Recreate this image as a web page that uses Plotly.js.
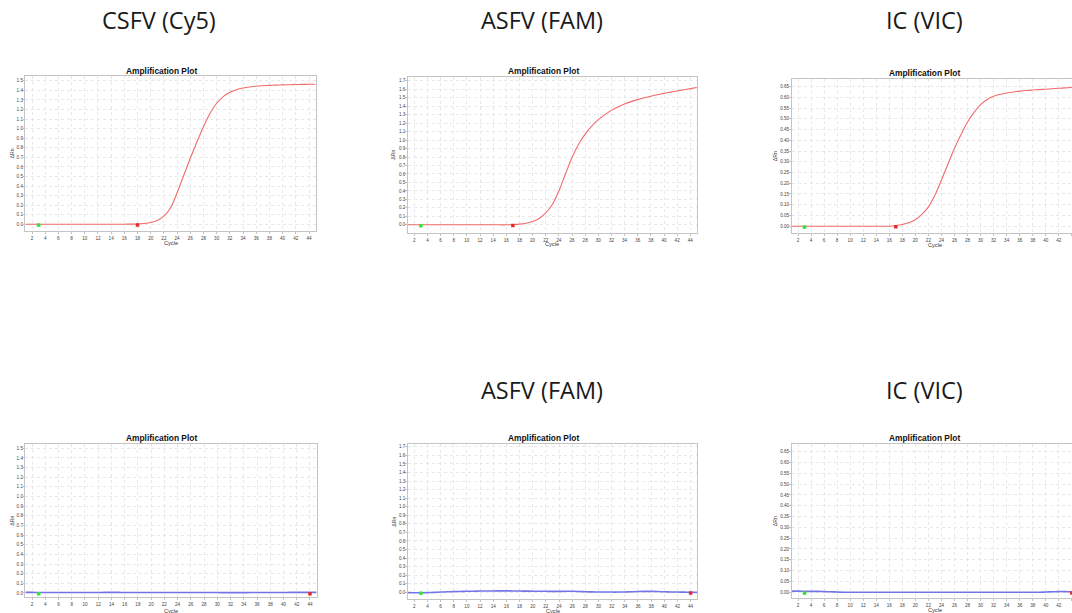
<!DOCTYPE html>
<html>
<head>
<meta charset="utf-8">
<script src="https://cdn.plot.ly/plotly-3.0.1.min.js"></script>
<style>html,body{margin:0;padding:0;background:#fff;}#chart{width:1072px;height:613px;}</style>
</head>
<body>
<div id="chart"></div>
<script>
// ---------- DATA ----------
const cycles = [1,2,3,4,5,6,7,8,9,10,11,12,13,14,15,16,17,18,19,20,21,22,23,24,25,26,27,28,29,30,31,32,33,34,35,36,37,38,39,40,41,42,43,44,45];

const csfvTop = [0.000,0.000,0.000,0.000,0.000,0.000,0.000,0.000,0.000,0.000,0.000,0.000,0.000,0.000,0.001,0.001,0.002,0.003,0.008,0.018,0.040,0.085,0.170,0.330,0.510,0.690,0.860,1.020,1.160,1.265,1.335,1.380,1.407,1.424,1.435,1.443,1.448,1.452,1.455,1.457,1.459,1.461,1.462,1.463,1.464];
const asfvTop = [0.000,0.000,0.000,0.000,0.000,0.000,0.000,0.000,0.000,0.000,0.000,0.000,0.000,0.000,0.000,0.000,0.003,0.008,0.018,0.040,0.075,0.140,0.240,0.400,0.600,0.795,0.950,1.070,1.165,1.240,1.300,1.350,1.390,1.425,1.453,1.477,1.498,1.517,1.534,1.550,1.565,1.579,1.593,1.606,1.620];
const icTop = [0.000,0.000,0.000,0.000,0.000,0.000,0.000,0.000,0.000,0.000,0.000,0.000,0.000,0.000,0.000,0.000,0.003,0.008,0.016,0.030,0.055,0.090,0.145,0.215,0.290,0.363,0.427,0.485,0.530,0.566,0.590,0.605,0.614,0.620,0.625,0.629,0.632,0.634,0.636,0.638,0.640,0.642,0.644,0.646,0.647];

const csfvBottom = [0.006,0.006,0.005,0.005,0.005,0.004,0.004,0.004,0.004,0.005,0.005,0.005,0.006,0.006,0.006,0.005,0.005,0.005,0.004,0.004,0.004,0.004,0.005,0.005,0.005,0.005,0.004,0.004,0.004,0.004,0.003,0.003,0.003,0.003,0.004,0.004,0.004,0.005,0.005,0.005,0.006,0.006,0.006,0.006,0.006];
const asfvBottom = [-0.004,-0.005,-0.005,-0.003,0.000,0.003,0.006,0.008,0.010,0.012,0.013,0.015,0.016,0.016,0.017,0.017,0.016,0.015,0.014,0.013,0.012,0.012,0.011,0.011,0.012,0.012,0.010,0.007,0.005,0.004,0.004,0.003,0.003,0.004,0.006,0.009,0.011,0.011,0.009,0.006,0.004,0.003,0.002,0.001,0.000];
const icBottom = [0.005,0.005,0.004,0.004,0.004,0.003,0.002,0.001,0.000,0.000,0.000,0.000,0.000,0.000,0.000,0.000,0.000,0.000,0.000,0.000,0.000,0.000,0.000,0.000,0.000,0.000,0.000,0.000,0.000,0.000,0.000,0.000,0.000,0.000,0.000,0.000,0.000,0.000,0.000,0.001,0.002,0.003,0.003,0.002,0.001];

// baseline start / end markers (cycle, ΔRn)
const baseStartCycle = [3,3,3,3,3,3];
const baseStartValue = [-0.008,-0.010,-0.004,-0.008,-0.010,-0.004];
const baseEndCycle = [18,17,17,44,44,44];
const baseEndValue = [-0.006,-0.008,-0.002,-0.008,-0.008,-0.004];

const groupTitles = ["CSFV (Cy5)","ASFV (FAM)","IC (VIC)","","ASFV (FAM)","IC (VIC)"];
const plotTitle = "Amplification Plot";
const xAxisTitle = "Cycle";
const yAxisTitle = "ΔRn";
const xTickVals = [2,4,6,8,10,12,14,16,18,20,22,24,26,28,30,32,34,36,38,40,42,44];

// ---------- LAYOUT ----------
const W = 1072, H = 613;
const fx = v => v / W;
const fy = v => 1 - v / H;

const RED = '#f26a6a', BLUE = '#7474e8';
const panels = [
  {s: csfvTop,    c: RED,  x0: 25.4,  x1: 315.6, y0: 76,    y1: 231,   xr: [1, 45],    yr: [-0.07, 1.55],  dt: 0.1,  fmt: '.1f', top: 71,    cyc: 242.7, cx: 170.5, gy: 20,  gx: 159, yl: 12,  tx: 161},
  {s: asfvTop,    c: RED,  x0: 407.7, x1: 696.9, y0: 77.3,  y1: 233.3, xr: [1, 45],    yr: [-0.10, 1.74],  dt: 0.1,  fmt: '.1f', top: 71,    cyc: 244,   cx: 552.3, gy: 20,  gx: 542, yl: 393.5, tx: 543},
  {s: icTop,      c: RED,  x0: 791.5, x1: 1072,  y0: 79.3,  y1: 233.3, xr: [1, 44.02], yr: [-0.033, 0.684], dt: 0.05, fmt: '.2f', top: 73,    cyc: 245,   cx: 935,   gy: 20,  gx: 924, yl: 775, tx: 924.5},
  {s: csfvBottom, c: BLUE, x0: 25.4,  x1: 316.6, y0: 444.3, y1: 597.3, xr: [1, 45],    yr: [-0.045, 1.541], dt: 0.1, fmt: '.1f', top: 437.7, cyc: 610.7, cx: 171,   gy: 390, gx: 159, yl: 12,  tx: 161.5},
  {s: asfvBottom, c: BLUE, x0: 407.7, x1: 697.2, y0: 444.3, y1: 599,   xr: [1, 45],    yr: [-0.078, 1.73], dt: 0.1,  fmt: '.1f', top: 438.3, cyc: 610.7, cx: 552.5, gy: 390, gx: 542, yl: 394, tx: 543},
  {s: icBottom,   c: BLUE, x0: 791.5, x1: 1072,  y0: 444.3, y1: 598.3, xr: [1, 44.02], yr: [-0.028, 0.684], dt: 0.05, fmt: '.2f', top: 438,   cyc: 610,   cx: 935,   gy: 390, gx: 924, yl: 775, tx: 924.5}
];

const tickFont = {family: 'Liberation Sans, Arial, sans-serif', size: 4.6, color: '#444'};
const traces = [];
const layout = {
  width: W, height: H,
  margin: {l: 0, r: 0, t: 0, b: 0},
  paper_bgcolor: '#fff', plot_bgcolor: '#fff',
  showlegend: false,
  annotations: [], shapes: []
};

panels.forEach((p, i) => {
  const n = i + 1;
  const full = p.x1 < W - 1;
  const xa = 'x' + (n === 1 ? '' : n), ya = 'y' + (n === 1 ? '' : n);
  const xk = 'xaxis' + (n === 1 ? '' : n), yk = 'yaxis' + (n === 1 ? '' : n);
  traces.push({x: cycles, y: p.s, type: 'scatter', mode: 'lines', xaxis: xa, yaxis: ya,
    line: {color: p.c, width: p.c === BLUE ? 1.6 : 1.1, shape: 'spline', smoothing: 0.8}, hoverinfo: 'skip'});
  traces.push({x: [baseStartCycle[i]], y: [baseStartValue[i]], type: 'scatter', mode: 'markers', xaxis: xa, yaxis: ya,
    marker: {symbol: 'square', size: 3.5, color: '#2ee82e', line: {width: 0}}, cliponaxis: false, hoverinfo: 'skip'});
  traces.push({x: [baseEndCycle[i]], y: [baseEndValue[i]], type: 'scatter', mode: 'markers', xaxis: xa, yaxis: ya,
    marker: {symbol: 'square', size: 3.5, color: '#e42a2a', line: {width: 0}}, cliponaxis: true, hoverinfo: 'skip'});

  const yt = [];
  for (let k = 0; k * p.dt <= p.yr[1] + 1e-9; k++) yt.push(+(k * p.dt).toFixed(2));
  // panels cut by the right edge: keep the tick mark at 44 but no clipped label
  const xt = xTickVals.map(v => (!full && v === 44) ? '' : String(v));

  layout[xk] = {
    domain: [fx(p.x0), fx(p.x1)], range: p.xr, anchor: ya,
    tickmode: 'array', tickvals: xTickVals, ticktext: xt, tickfont: tickFont,
    ticks: 'outside', ticklen: 2, tickcolor: '#999', tickwidth: 0.6,
    showgrid: true, gridcolor: '#e2e2e2', gridwidth: 0.8, griddash: 'dot',
    showline: true, mirror: true, linecolor: '#c4c4c4', linewidth: 1,
    zeroline: false, fixedrange: true
  };
  layout[yk] = {
    domain: [fy(p.y1), fy(p.y0)], range: p.yr, anchor: xa,
    tickmode: 'array', tickvals: yt, tickformat: p.fmt, tickfont: tickFont,
    ticks: 'outside', ticklen: 1.5, tickcolor: '#999', tickwidth: 0.6, ticklabelstandoff: -1,
    showgrid: true, gridcolor: '#e2e2e2', gridwidth: 0.8, griddash: 'dot',
    showline: true, mirror: full, linecolor: '#c4c4c4', linewidth: 1,
    zeroline: false, fixedrange: true
  };

  // panel title
  layout.annotations.push({xref: 'paper', yref: 'paper', x: fx(p.tx), y: fy(p.top),
    text: '<b>' + plotTitle + '</b>', showarrow: false, xanchor: 'center', yanchor: 'middle',
    font: {family: 'Liberation Sans, Arial, sans-serif', size: 8.4, color: '#111'}});
  // axis titles
  layout.annotations.push({xref: 'paper', yref: 'paper', x: fx(p.cx), y: fy(p.cyc), text: xAxisTitle, showarrow: false,
    xanchor: 'center', yanchor: 'middle', font: {family: 'Liberation Sans, Arial, sans-serif', size: 5.6, color: '#333'}});
  layout.annotations.push({xref: 'paper', yref: 'paper', x: fx(p.yl), y: fy((p.y0 + p.y1) / 2), text: yAxisTitle, showarrow: false,
    textangle: -90, xanchor: 'center', yanchor: 'middle', font: {family: 'Liberation Sans, Arial, sans-serif', size: 5.2, color: '#333'}});
  // group title
  if (groupTitles[i]) {
    layout.annotations.push({xref: 'paper', yref: 'paper', x: fx(p.gx), y: fy(p.gy), text: groupTitles[i], showarrow: false,
      xanchor: 'center', yanchor: 'middle', font: {family: 'Open Sans, sans-serif', size: 23.5, color: '#1a1a1a'}});
  }
});

Plotly.newPlot('chart', traces, layout, {staticPlot: true, displayModeBar: false});
</script>
</body>
</html>
